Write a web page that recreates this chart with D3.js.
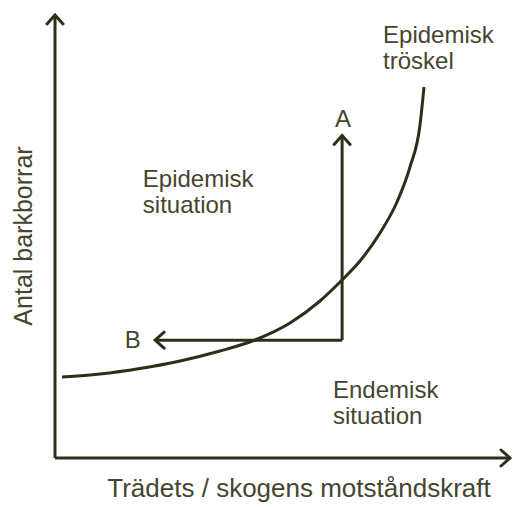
<!DOCTYPE html>
<html>
<head>
<meta charset="utf-8">
<script src="https://cdn.jsdelivr.net/npm/d3@7"></script>
<style>
  body { margin: 0; background: #fff; }
  text { font-family: "Liberation Sans", Arial, sans-serif; fill: #45452f; }
</style>
</head>
<body>
<svg width="513" height="507"></svg>
<script>
// threshold curve, in axis units (0-100 on both axes)
var curveX = [1.54, 9.89, 18.68, 27.47, 36.26, 43.96, 51.65, 58.24, 63.08, 67.03, 71.43, 75.16, 78.02, 80.22, 81.10];
var curveY = [18.28, 18.96, 20.20, 21.90, 24.15, 26.64, 30.47, 35.44, 40.18, 44.47, 50.79, 57.79, 65.69, 75.17, 83.75];

// the A / B arrows start from the same corner
var corner = {x: 63.1, y: 26.6};
var arrowA = {x: 63.1, y: 72.8};
var arrowB = {x: 22.0, y: 26.6};

var labels = [
  {lines: ["Epidemisk", "tröskel"], x: 72.1, y: 93.7, anchor: "start"},
  {lines: ["Epidemisk", "situation"], x: 19.3, y: 61.2, anchor: "start"},
  {lines: ["Endemisk", "situation"], x: 61.1, y: 13.5, anchor: "start"},
  {lines: ["A"], x: 63.3, y: 74.7, anchor: "middle"},
  {lines: ["B"], x: 17.1, y: 24.8, anchor: "middle"}
];

var xTitle = "Trädets / skogens motståndskraft",
    yTitle = "Antal barkborrar";

var svg = d3.select("svg"),
    ink = "#2e2e1a";

var x = d3.scaleLinear().domain([0, 100]).range([55, 510]),
    y = d3.scaleLinear().domain([0, 100]).range([458, 15]);

var defs = svg.append("defs");
defs.append("marker")
    .attr("id", "head")
    .attr("markerUnits", "userSpaceOnUse")
    .attr("viewBox", "-12 -10 14 20")
    .attr("markerWidth", 14)
    .attr("markerHeight", 20)
    .attr("refX", 0)
    .attr("refY", 0)
    .attr("orient", "auto")
  .append("path")
    .attr("d", "M-9,-8L0,0L-9,8")
    .attr("fill", "none")
    .attr("stroke", ink)
    .attr("stroke-width", 3)
    .attr("stroke-linecap", "round");

var line = d3.line()
    .x(function(d) { return x(d[0]); })
    .y(function(d) { return y(d[1]); });

// axes (plain arrows, no ticks)
svg.append("path")
    .attr("d", line([[0, 0], [0, 100]]))
    .attr("stroke", ink).attr("stroke-width", 3).attr("fill", "none")
    .attr("marker-end", "url(#head)");

svg.append("path")
    .attr("d", line([[0, 0], [100, 0]]))
    .attr("stroke", ink).attr("stroke-width", 3).attr("fill", "none")
    .attr("marker-end", "url(#head)");

// threshold curve
var pts = curveX.map(function(v, i) { return [v, curveY[i]]; });
svg.append("path")
    .attr("d", d3.line()
      .curve(d3.curveMonotoneX)
      .x(function(d) { return x(d[0]); })
      .y(function(d) { return y(d[1]); })(pts))
    .attr("stroke", ink).attr("stroke-width", 3).attr("fill", "none");

// A and B arrows
[arrowA, arrowB].forEach(function(end) {
  svg.append("path")
      .attr("d", line([[corner.x, corner.y], [end.x, end.y]]))
      .attr("stroke", ink).attr("stroke-width", 3).attr("fill", "none")
      .attr("marker-end", "url(#head)");
});

// labels
labels.forEach(function(l) {
  var t = svg.append("text")
      .attr("x", x(l.x))
      .attr("y", y(l.y))
      .attr("text-anchor", l.anchor)
      .style("font-size", "24px");
  l.lines.forEach(function(s, i) {
    t.append("tspan")
        .attr("x", x(l.x))
        .attr("dy", i ? 26 : 0)
        .text(s);
  });
});

svg.append("text")
    .attr("x", 299)
    .attr("y", 497)
    .attr("text-anchor", "middle")
    .style("font-size", "26px")
    .text(xTitle);

svg.append("text")
    .attr("transform", "translate(32,236) rotate(-90)")
    .attr("text-anchor", "middle")
    .style("font-size", "25px")
    .text(yTitle);
</script>
</body>
</html>
